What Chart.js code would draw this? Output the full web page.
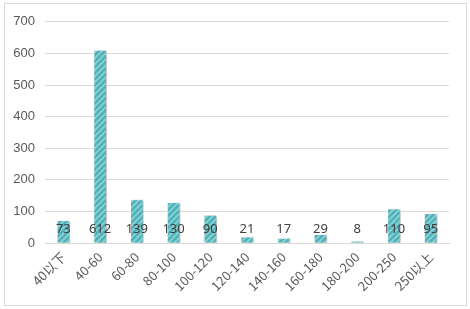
<!DOCTYPE html>
<html>
<head>
<meta charset="utf-8">
<script src="https://cdn.jsdelivr.net/npm/chart.js@4"></script>
<style>
  body { margin: 0; background: #fff; }
  #wrap { position: absolute; left: 4px; top: 3px; width: 461px; height: 301px; border: 1px solid #d9d9d9; }
</style>
</head>
<body>
<div id="wrap"><canvas id="barChart"></canvas></div>
<script>
const categories = ['40以下', '40-60', '60-80', '80-100', '100-120', '120-140', '140-160', '160-180', '180-200', '200-250', '250以上'];
const counts = [73, 612, 139, 130, 90, 21, 17, 29, 8, 110, 95];
const yTicks = [0, 100, 200, 300, 400, 500, 600, 700];

// striped fill like the original
function stripes() {
  const c = document.createElement('canvas');
  c.width = 6; c.height = 6;
  const g = c.getContext('2d');
  g.fillStyle = '#4db3ba';
  g.fillRect(0, 0, 6, 6);
  g.strokeStyle = '#8fd1d5';
  g.lineWidth = 1.6;
  g.beginPath();
  g.moveTo(-1, 7); g.lineTo(7, -1);
  g.moveTo(-1, 1); g.lineTo(1, -1);
  g.moveTo(5, 7); g.lineTo(7, 5);
  g.stroke();
  return g.createPattern(c, 'repeat');
}

const shadowPlugin = {
  id: 'shadow',
  beforeDatasetsDraw(chart) {
    const ctx = chart.ctx;
    ctx.save();
    ctx.shadowColor = 'rgba(0,0,0,0.3)';
    ctx.shadowBlur = 3;
    ctx.shadowOffsetX = 2;
    ctx.shadowOffsetY = 1;
  },
  afterDatasetsDraw(chart) {
    chart.ctx.restore();
  }
};

const labelPlugin = {
  id: 'barLabels',
  afterDatasetsDraw(chart) {
    const ctx = chart.ctx;
    const meta = chart.getDatasetMeta(0);
    const base = chart.scales.y.getPixelForValue(0);
    ctx.save();
    ctx.font = '13px "Noto Sans", sans-serif';
    ctx.fillStyle = '#404040';
    ctx.textAlign = 'center';
    ctx.textBaseline = 'middle';
    meta.data.forEach((bar, i) => {
      ctx.fillText(String(counts[i]), bar.x, base - 14);
    });
    ctx.restore();
  }
};

const ctx = document.getElementById('barChart').getContext('2d');
new Chart(ctx, {
  type: 'bar',
  data: {
    labels: categories,
    datasets: [{
      data: counts,
      backgroundColor: stripes(),
      borderColor: '#ffffff',
      borderWidth: 1,
      barPercentage: 0.74,
      categoryPercentage: 0.5
    }]
  },
  options: {
    responsive: true,
    maintainAspectRatio: false,
    animation: false,
    layout: { padding: { left: 2, right: 17, top: 9, bottom: 5 } },
    plugins: {
      legend: { display: false },
      tooltip: { enabled: false }
    },
    scales: {
      x: {
        grid: { display: false, drawTicks: false },
        border: { color: '#d9d9d9' },
        ticks: {
          color: '#595959',
          font: { size: 13, family: '"Noto Sans CJK SC", "Liberation Sans", sans-serif' },
          maxRotation: 45,
          minRotation: 45,
          padding: 6
        }
      },
      y: {
        min: 0,
        max: 700,
        afterBuildTicks(axis) { axis.ticks = yTicks.map(v => ({ value: v })); },
        afterFit(axis) { axis.width = 38; },
        grid: { color: '#d9d9d9', drawTicks: false },
        border: { display: false },
        ticks: {
          color: '#595959',
          font: { size: 13, family: '"Liberation Sans", Arial, sans-serif' },
          padding: 10
        }
      }
    }
  },
  plugins: [shadowPlugin, labelPlugin]
});
</script>
</body>
</html>
